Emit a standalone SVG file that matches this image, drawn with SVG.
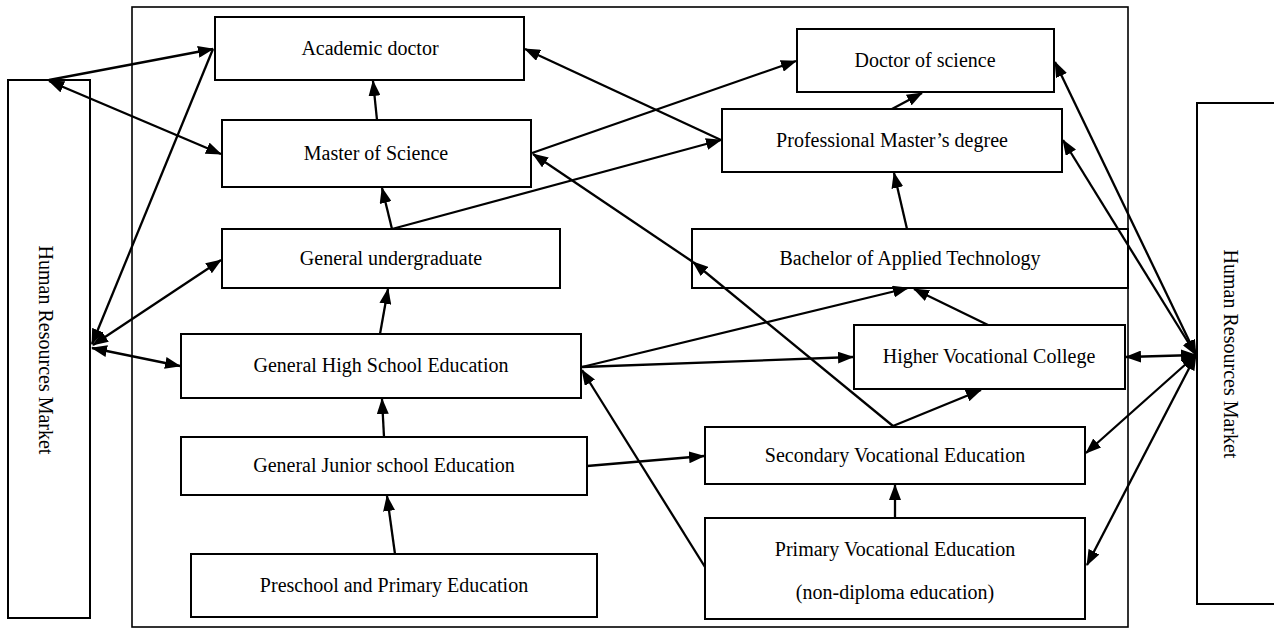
<svg xmlns="http://www.w3.org/2000/svg" width="1274" height="630" viewBox="0 0 1274 630">
<defs>
<style>
.box{fill:#fff;stroke:#000;stroke-width:2}
.frame{fill:none;stroke:#000;stroke-width:1.6}
.t{font-family:"Liberation Serif","Times New Roman",serif;font-size:20px;fill:#000;text-anchor:middle}
.c line{stroke:#000;stroke-width:2.3}
.one{marker-end:url(#ah)}
.two{marker-start:url(#ah);marker-end:url(#ah)}
.st{marker-start:url(#ah)}
</style>
<marker id="ah" viewBox="0 0 16 12" refX="15" refY="6" markerWidth="16" markerHeight="12" markerUnits="userSpaceOnUse" orient="auto-start-reverse">
<path d="M0,0 L16,6 L0,12 z" fill="#000"/>
</marker>
</defs>
<rect width="1274" height="630" fill="#fff"/>
<rect id="system" class="frame" x="132" y="7" width="996" height="620"/>

<g id="hrm-left"><rect class="box" x="8" y="80" width="82" height="538"/><text class="t" transform="translate(39,350) rotate(90)">Human Resources Market</text></g>
<g id="hrm-right"><rect class="box" x="1197" y="103" width="84" height="501"/><text class="t" transform="translate(1224,354) rotate(90)">Human Resources Market</text></g>

<g id="academic-doctor"><rect class="box" x="215" y="17" width="309" height="63"/><text class="t" x="370" y="55">Academic doctor</text></g>
<g id="master-science"><rect class="box" x="222" y="120" width="309" height="67"/><text class="t" x="376" y="160">Master of Science</text></g>
<g id="doctor-science"><rect class="box" x="797" y="29" width="257" height="63"/><text class="t" x="925" y="67">Doctor of science</text></g>
<g id="prof-master"><rect class="box" x="722" y="109" width="340" height="63"/><text class="t" x="892" y="147">Professional Master’s degree</text></g>
<g id="gen-undergrad"><rect class="box" x="222" y="229" width="338" height="59"/><text class="t" x="391" y="265">General undergraduate</text></g>
<g id="bachelor-applied"><rect class="box" x="692" y="229" width="436" height="59"/><text class="t" x="910" y="265">Bachelor of Applied Technology</text></g>
<g id="gen-high"><rect class="box" x="181" y="334" width="400" height="64"/><text class="t" x="381" y="372">General High School Education</text></g>
<g id="higher-voc"><rect class="box" x="854" y="325" width="271" height="64"/><text class="t" x="989" y="363">Higher Vocational College</text></g>
<g id="gen-junior"><rect class="box" x="181" y="437" width="406" height="58"/><text class="t" x="384" y="472">General Junior school Education</text></g>
<g id="secondary-voc"><rect class="box" x="705" y="427" width="380" height="57"/><text class="t" x="895" y="462">Secondary Vocational Education</text></g>
<g id="preschool"><rect class="box" x="191" y="554" width="406" height="63"/><text class="t" x="394" y="592">Preschool and Primary Education</text></g>
<g id="primary-voc"><rect class="box" x="705" y="518" width="380" height="101"/><text class="t" x="895" y="556">Primary Vocational Education</text><text class="t" x="895" y="599">(non-diploma education)</text></g>

<g id="connectors" class="c">
<line class="one" x1="49" y1="80" x2="213" y2="49"/>
<line class="one" x1="377" y1="120" x2="373" y2="81"/>
<line class="one" x1="392" y1="229" x2="382" y2="188"/>
<line class="one" x1="392" y1="229" x2="721" y2="140"/>
<line class="one" x1="532" y1="153" x2="796" y2="61"/>
<line class="one" x1="721" y1="140" x2="525" y2="49"/>
<line class="one" x1="893" y1="426" x2="693" y2="262"/>
<line class="one" x1="693" y1="262" x2="533" y2="154"/>
<line class="one" x1="893" y1="426" x2="981" y2="390"/>
<line class="one" x1="705" y1="567" x2="582" y2="370"/>
<line class="one" x1="582" y1="367" x2="853" y2="357"/>
<line class="one" x1="582" y1="367" x2="908" y2="288"/>
<line class="one" x1="988" y1="325" x2="914" y2="289"/>
<line class="one" x1="907" y1="229" x2="894" y2="173"/>
<line class="one" x1="892" y1="109" x2="922" y2="93"/>
<line class="one" x1="380" y1="334" x2="388" y2="289"/>
<line class="one" x1="384" y1="437" x2="382" y2="399"/>
<line class="one" x1="395" y1="554" x2="387" y2="496"/>
<line class="one" x1="587" y1="466" x2="704" y2="456"/>
<line class="one" x1="895" y1="518" x2="895" y2="485"/>
<line class="two" x1="49" y1="81" x2="221" y2="154"/>
<line class="st" x1="92" y1="344" x2="213" y2="49"/>
<line class="two" x1="93" y1="345" x2="221" y2="260"/>
<line class="two" x1="92" y1="348" x2="180" y2="366"/>
<line class="two" x1="1196" y1="355" x2="1055" y2="62"/>
<line class="two" x1="1196" y1="355" x2="1063" y2="140"/>
<line class="two" x1="1196" y1="355" x2="1126" y2="357"/>
<line class="two" x1="1196" y1="355" x2="1086" y2="453"/>
<line class="two" x1="1196" y1="355" x2="1087" y2="565"/>
</g>
</svg>
